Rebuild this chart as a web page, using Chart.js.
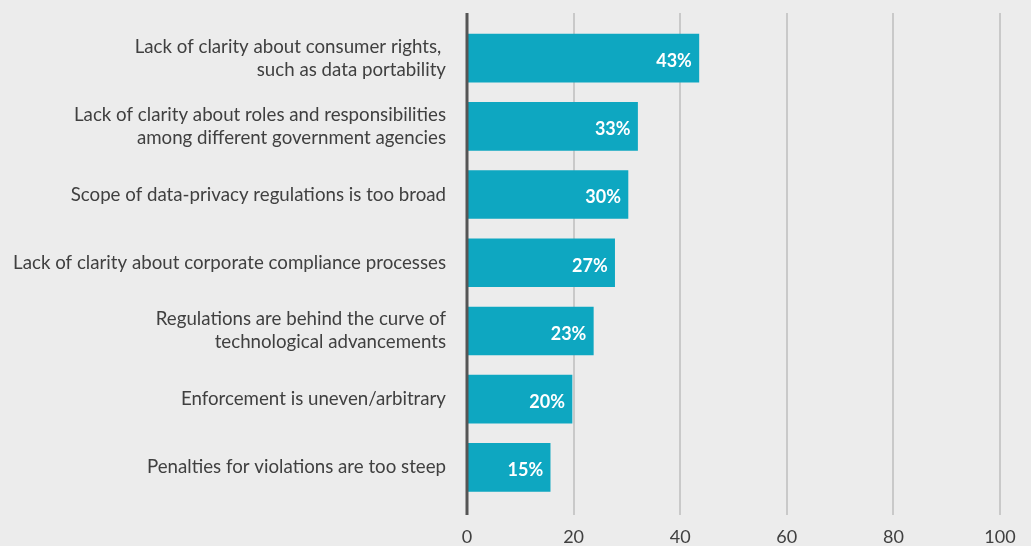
<!DOCTYPE html>
<html>
<head>
<meta charset="utf-8">
<script src="https://cdn.jsdelivr.net/npm/chart.js@4/dist/chart.umd.min.js"></script>
<style>
  html, body { margin: 0; padding: 0; background: #ececec; }
  #wrap { width: 1031px; height: 546px; position: relative; }
</style>
</head>
<body>
<div id="wrap"><canvas id="chartObstacles"></canvas></div>
<script>
// Catégories (libellés sur plusieurs lignes)
const categories = [
    ["Lack of clarity about consumer rights, ", "such as data portability"],
    ["Lack of clarity about roles and responsibilities", "among different government agencies"],
    "Scope of data-privacy regulations is too broad",
    "Lack of clarity about corporate compliance processes",
    ["Regulations are behind the curve of", "technological advancements"],
    "Enforcement is uneven/arbitrary",
    "Penalties for violations are too steep"
];

// Valeurs (longueur des barres)
const valeurs = [43.5, 32.0, 30.2, 27.7, 23.7, 19.7, 15.6];

// Étiquettes affichées dans les barres
const etiquettes = ["43%", "33%", "30%", "27%", "23%", "20%", "15%"];

// Graduations de l'axe horizontal
const graduations = [0, 20, 40, 60, 80, 100];

const police = "Lato, 'Open Sans', sans-serif";

// Grille verticale et axe dessinés sur toute la hauteur
const grillePlugin = {
    id: 'grillePlugin',
    beforeDatasetsDraw(chart) {
        const ctx = chart.ctx;
        const x = chart.scales.x;
        ctx.save();
        graduations.forEach(g => {
            if (g === 0) return;
            const px = Math.round(x.getPixelForValue(g));
            ctx.strokeStyle = '#c9c9c9';
            ctx.lineWidth = 2;
            ctx.beginPath();
            ctx.moveTo(px, 13);
            ctx.lineTo(px, 515);
            ctx.stroke();
        });
        ctx.restore();
    },
    afterDatasetsDraw(chart) {
        const ctx = chart.ctx;
        const x0 = chart.scales.x.getPixelForValue(0);
        ctx.save();
        ctx.strokeStyle = '#555555';
        ctx.lineWidth = 3;
        ctx.beginPath();
        ctx.moveTo(x0, 13);
        ctx.lineTo(x0, 515);
        ctx.stroke();

        // Étiquettes de valeur dans les barres
        const meta = chart.getDatasetMeta(0);
        ctx.fillStyle = '#ffffff';
        ctx.font = "bold 18px " + police;
        ctx.textAlign = 'right';
        ctx.textBaseline = 'middle';
        meta.data.forEach((bar, i) => {
            ctx.fillText(etiquettes[i], bar.x - 7, bar.y + 3);
        });
        ctx.restore();
    }
};

const canvas = document.getElementById('chartObstacles');

new Chart(canvas, {
    type: 'bar',
    data: {
        labels: categories,
        datasets: [{
            data: valeurs,
            backgroundColor: '#0ea7c1',
            borderWidth: 0,
            barThickness: 48
        }]
    },
    options: {
        indexAxis: 'y',
        responsive: true,
        maintainAspectRatio: false,
        animation: false,
        layout: { padding: { top: 24, right: 31, bottom: 0, left: 0 } },
        plugins: {
            legend: { display: false },
            tooltip: { enabled: false }
        },
        scales: {
            x: {
                min: 0,
                max: 100,
                afterBuildTicks: scale => { scale.ticks = graduations.map(v => ({ value: v })); },
                afterFit: scale => {
                    scale.height = 44.5;
                    scale.paddingLeft = 0;
                    scale.paddingRight = 0;
                },
                grid: { display: false, drawTicks: false },
                border: { display: false },
                ticks: {
                    color: '#404040',
                    font: { family: police, size: 18 },
                    padding: 25,
                    maxRotation: 0
                }
            },
            y: {
                afterFit: scale => {
                    scale.width = 467;
                    scale.paddingTop = 0;
                    scale.paddingBottom = 0;
                },
                grid: { display: false, drawTicks: false },
                border: { display: false },
                ticks: {
                    color: '#404040',
                    font: { family: police, size: 18.7, lineHeight: 1.23 },
                    padding: 21
                }
            }
        }
    },
    plugins: [grillePlugin]
});
</script>
</body>
</html>
